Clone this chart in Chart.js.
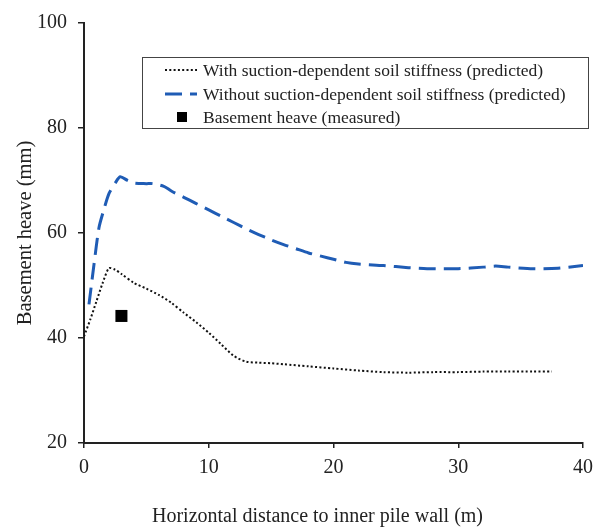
<!DOCTYPE html>
<html>
<head>
<meta charset="utf-8">
<script src="https://cdn.jsdelivr.net/npm/chart.js@4/dist/chart.umd.min.js"></script>
<style>
  html, body { margin: 0; padding: 0; background: #fff; }
  #wrap { width: 601px; height: 527px; }
</style>
</head>
<body>
<div id="wrap"><canvas id="c" width="601" height="527"></canvas></div>
<script>
// Horizontal distance to inner pile wall (m)
const withSuctionX = [0, 0.5, 1, 1.5, 2, 2.5, 3, 4, 5, 6, 7, 8, 9, 10, 11, 12, 13, 14, 15, 16, 18, 20, 22, 24, 26, 28, 30, 32, 34, 36, 37.5];
// Basement heave (mm), with suction-dependent soil stiffness
const withSuctionY = [40.3, 43.5, 47, 50.5, 53.3, 53, 52.2, 50.5, 49.4, 48.2, 46.7, 44.8, 43, 41, 38.8, 36.6, 35.5, 35.3, 35.2, 35, 34.6, 34.2, 33.8, 33.5, 33.4, 33.5, 33.5, 33.6, 33.6, 33.6, 33.6];

const withoutSuctionX = [0.4, 0.8, 1.2, 1.6, 2, 2.5, 2.9, 3.5, 4, 5, 5.5, 6.4, 7, 8, 9, 10, 11, 12, 13, 14, 15, 16, 17, 18, 19, 20, 21, 22, 24, 26, 27.5, 30, 32, 33, 34, 36, 38, 40];
const withoutSuctionY = [46.4, 54, 61, 64.5, 67.5, 69.5, 70.7, 70, 69.5, 69.4, 69.4, 68.9, 68, 66.8, 65.6, 64.4, 63.2, 62, 60.8, 59.7, 58.7, 57.8, 57, 56.2, 55.6, 55, 54.4, 54.1, 53.8, 53.4, 53.2, 53.2, 53.5, 53.7, 53.5, 53.2, 53.3, 53.8];

const measuredX = [3];
const measuredY = [44.2];

const xTicks = [0, 10, 20, 30, 40];
const yTicks = [20, 40, 60, 80, 100];

const xTitle = 'Horizontal distance to inner pile wall (m)';
const yTitle = 'Basement heave (mm)';

const seriesLabels = [
  'With suction-dependent soil stiffness (predicted)',
  'Without suction-dependent soil stiffness (predicted)',
  'Basement heave (measured)'
];

const toPoints = (xs, ys) => xs.map((x, i) => ({ x, y: ys[i] }));

const SERIF = '"Liberation Serif", "Times New Roman", serif';
const INK = '#222';
const BLUE = '#1f5cb5';

// Boxed legend in the upper part of the plot area, plus the x-axis caption
const annotations = {
  id: 'annotations',
  afterDraw(chart) {
    const ctx = chart.ctx;
    const ds = chart.data.datasets;
    const box = { x: 142, y: 57, w: 446, h: 71 };
    ctx.save();
    ctx.strokeStyle = '#444';
    ctx.lineWidth = 1;
    ctx.strokeRect(box.x + 0.5, box.y + 0.5, box.w, box.h);

    const rows = [70, 94, 117];
    const x0 = 165, x1 = 197, tx = 203;
    ctx.font = '17.5px ' + SERIF;
    ctx.textBaseline = 'middle';
    ctx.textAlign = 'left';

    for (let i = 0; i < 2; i++) {
      ctx.save();
      ctx.strokeStyle = ds[i].borderColor;
      ctx.lineWidth = ds[i].borderWidth;
      ctx.setLineDash(ds[i].borderDash);
      ctx.beginPath();
      ctx.moveTo(x0, rows[i]);
      ctx.lineTo(x1, rows[i]);
      ctx.stroke();
      ctx.restore();
    }

    // square marker sample
    ctx.fillStyle = '#000';
    ctx.fillRect(177, rows[2] - 5, 10, 10);

    ctx.fillStyle = INK;
    for (let i = 0; i < 3; i++) {
      ctx.fillText(seriesLabels[i], tx, rows[i] + 1);
    }

    // x-axis caption
    ctx.font = '20px ' + SERIF;
    ctx.textBaseline = 'alphabetic';
    ctx.textAlign = 'left';
    ctx.fillText(xTitle, 152, 521.5);
    ctx.restore();
  }
};

new Chart(document.getElementById('c'), {
  type: 'scatter',
  data: {
    datasets: [
      {
        label: seriesLabels[0],
        data: toPoints(withSuctionX, withSuctionY),
        showLine: true,
        borderColor: '#111',
        borderWidth: 2,
        borderDash: [2, 2.3],
        pointRadius: 0,
        tension: 0.25,
        fill: false
      },
      {
        label: seriesLabels[1],
        data: toPoints(withoutSuctionX, withoutSuctionY),
        showLine: true,
        borderColor: BLUE,
        borderWidth: 3,
        borderDash: [17, 8],
        pointRadius: 0,
        tension: 0.25,
        fill: false
      },
      {
        label: seriesLabels[2],
        data: toPoints(measuredX, measuredY),
        showLine: false,
        pointStyle: 'rect',
        pointRadius: 8.5,
        pointBackgroundColor: '#000',
        pointBorderColor: '#000',
        pointBorderWidth: 0
      }
    ]
  },
  options: {
    responsive: false,
    animation: false,
    layout: { padding: { top: 21, right: 17, bottom: 0, left: 0 } },
    plugins: {
      legend: { display: false },
      tooltip: { enabled: false },
      title: { display: false }
    },
    scales: {
      x: {
        type: 'linear',
        min: 0,
        max: 40,
        afterBuildTicks: (s) => { s.ticks = xTicks.map(v => ({ value: v })); },
        afterFit: (s) => { s.height = 84; },
        ticks: { font: { family: SERIF, size: 20 }, color: INK, padding: 8 },
        grid: { drawOnChartArea: false, drawTicks: true, tickLength: 5, color: INK, lineWidth: 1.5 },
        border: { display: true, color: INK, width: 2 },
        title: { display: false }
      },
      y: {
        type: 'linear',
        min: 20,
        max: 100,
        afterBuildTicks: (s) => { s.ticks = yTicks.map(v => ({ value: v })); },
        afterFit: (s) => { s.width = 84; },
        ticks: { font: { family: SERIF, size: 20 }, color: INK, padding: 11 },
        grid: { drawOnChartArea: false, drawTicks: true, tickLength: 6, color: INK, lineWidth: 1.5 },
        border: { display: true, color: INK, width: 2 },
        title: {
          display: true,
          text: yTitle,
          font: { family: SERIF, size: 20.5 },
          color: INK,
          padding: { top: 13, bottom: 0 }
        }
      }
    }
  },
  plugins: [annotations]
});
</script>
</body>
</html>
